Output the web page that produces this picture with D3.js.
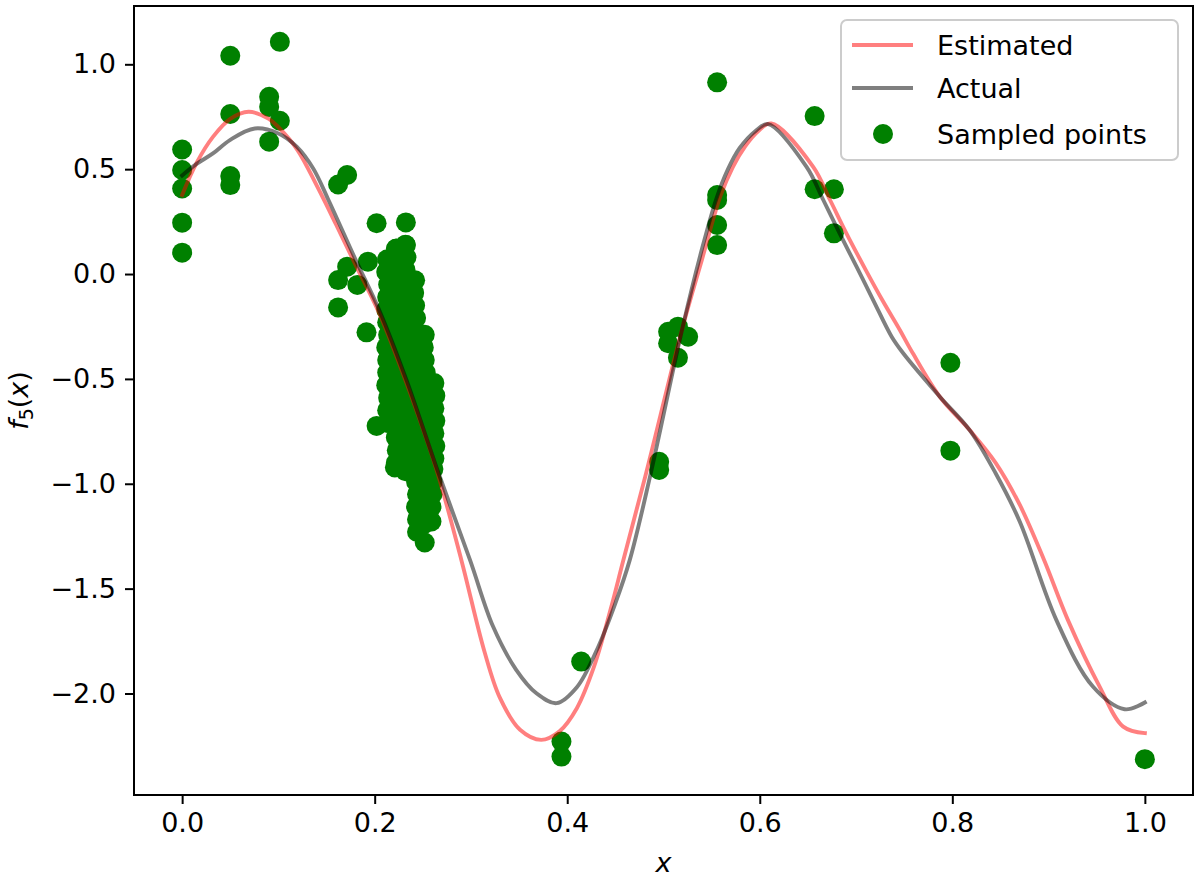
<!DOCTYPE html>
<html>
<head>
<meta charset="utf-8">
<script src="https://cdn.jsdelivr.net/npm/d3@7"></script>
<style>
  html, body { margin: 0; padding: 0; background: #ffffff; }
  svg { display: block; }
  text { font-family: "DejaVu Sans", sans-serif; }
</style>
</head>
<body>
<svg id="chart" width="1196" height="879"></svg>
<script>
// ---------------- data ----------------
const xTicks = [0.0, 0.2, 0.4, 0.6, 0.8, 1.0];
const yTicks = [-2.0, -1.5, -1.0, -0.5, 0.0, 0.5, 1.0];
const legendLabels = ["Estimated", "Actual", "Sampled points"];

// Estimated curve (x, y)
const estX = [0.000, 0.015, 0.032, 0.050, 0.069, 0.090, 0.100, 0.120, 0.140, 0.160, 0.180, 0.205, 0.233, 0.264, 0.290, 0.314, 0.330, 0.351, 0.373, 0.392, 0.410, 0.428, 0.445, 0.458, 0.481, 0.520, 0.540, 0.559, 0.572, 0.585, 0.598, 0.612, 0.6555, 0.673, 0.690, 0.710, 0.728, 0.7455, 0.759, 0.787, 0.818, 0.845, 0.870, 0.895, 0.920, 0.953, 0.9775, 1.000];
const estY = [0.377, 0.530, 0.654, 0.740, 0.774, 0.740, 0.700, 0.590, 0.420, 0.235, 0.045, -0.190, -0.520, -0.930, -1.363, -1.800, -2.020, -2.173, -2.221, -2.180, -2.070, -1.870, -1.600, -1.370, -0.966, -0.251, 0.070, 0.370, 0.510, 0.610, 0.680, 0.718, 0.511, 0.353, 0.194, 0.020, -0.130, -0.267, -0.378, -0.585, -0.744, -0.900, -1.100, -1.360, -1.649, -1.967, -2.158, -2.189];

// Actual curve (x, y)
const actX = [0.000, 0.015, 0.032, 0.050, 0.0755, 0.100, 0.119, 0.136, 0.152, 0.180, 0.205, 0.233, 0.264, 0.299, 0.323, 0.347, 0.368, 0.389, 0.410, 0.430, 0.450, 0.465, 0.486, 0.520, 0.540, 0.555, 0.567, 0.579, 0.595, 0.6087, 0.6486, 0.666, 0.683, 0.7005, 0.7178, 0.737, 0.749, 0.787, 0.818, 0.845, 0.870, 0.908, 0.946, 0.979, 1.000];
const actY = [0.470, 0.525, 0.575, 0.640, 0.694, 0.670, 0.607, 0.504, 0.353, 0.070, -0.175, -0.505, -0.919, -1.363, -1.681, -1.887, -1.999, -2.046, -1.970, -1.800, -1.570, -1.363, -0.966, -0.251, 0.120, 0.360, 0.500, 0.600, 0.680, 0.715, 0.511, 0.353, 0.194, 0.035, -0.124, -0.299, -0.378, -0.585, -0.744, -0.950, -1.180, -1.649, -1.967, -2.075, -2.043];

// Sampled points (x, y)
const sampleX = [
  0.000, 0.000, 0.000, 0.000, 0.000,
  0.050, 0.050, 0.050, 0.050,
  0.1015, 0.0904, 0.0904, 0.1015, 0.0904,
  0.1714, 0.162, 0.202, 0.2324, 0.162, 0.1714, 0.182, 0.193, 0.162, 0.1915, 0.202,
  0.2324, 0.2227, 0.221,
  // dense cluster
  0.213, 0.212, 0.214, 0.213, 0.212, 0.213, 0.214, 0.212, 0.213, 0.213, 0.212, 0.214, 0.213, 0.213,
  0.222, 0.223, 0.222, 0.221, 0.223, 0.222, 0.222, 0.223, 0.221, 0.222, 0.223, 0.222, 0.221, 0.223, 0.222, 0.222, 0.223, 0.222,
  0.232, 0.233, 0.232, 0.231, 0.233, 0.232, 0.232, 0.233, 0.231, 0.232, 0.233, 0.232, 0.231, 0.233, 0.232, 0.232, 0.233, 0.232, 0.232,
  0.242, 0.241, 0.242, 0.243, 0.242, 0.241, 0.242, 0.243, 0.242, 0.241, 0.242, 0.243, 0.242, 0.241, 0.242, 0.243, 0.243, 0.244, 0.243, 0.244, 0.244,
  0.252, 0.251, 0.252, 0.253, 0.252, 0.251, 0.252, 0.253, 0.252, 0.251, 0.252, 0.253, 0.252, 0.251, 0.252, 0.252, 0.252,
  0.262, 0.263, 0.262, 0.263, 0.262, 0.263, 0.262, 0.261, 0.260, 0.260, 0.259, 0.259,
  // right part
  0.4955, 0.4955, 0.5048, 0.515, 0.5256, 0.5048, 0.515,
  0.5557, 0.5557, 0.5557, 0.5557, 0.5557,
  0.657, 0.657, 0.677, 0.677,
  0.4145, 0.394, 0.394,
  0.798, 0.798, 1.000
];
const sampleY = [
  0.594, 0.496, 0.408, 0.245, 0.102,
  1.041, 0.763, 0.467, 0.424,
  1.107, 0.845, 0.797, 0.731, 0.631,
  0.472, 0.427, 0.242, 0.246, -0.029, 0.035, -0.052, 0.059, -0.159, -0.278, -0.724,
  0.138, 0.122, -0.922,
  // dense cluster
  0.07, 0.01, -0.05, -0.11, -0.17, -0.23, -0.29, -0.35, -0.41, -0.47, -0.53, -0.59, -0.65, -0.71,
  0.12, 0.06, 0.00, -0.06, -0.12, -0.18, -0.24, -0.30, -0.36, -0.42, -0.48, -0.54, -0.60, -0.66, -0.72, -0.78, -0.84, -0.90,
  0.14, 0.08, 0.02, -0.04, -0.10, -0.16, -0.22, -0.28, -0.34, -0.40, -0.46, -0.52, -0.58, -0.64, -0.70, -0.76, -0.82, -0.88, -0.94,
  -0.03, -0.09, -0.15, -0.21, -0.27, -0.33, -0.39, -0.45, -0.51, -0.57, -0.63, -0.69, -0.75, -0.81, -0.87, -0.93, -0.99, -1.05, -1.11, -1.17, -1.23,
  -0.29, -0.35, -0.41, -0.47, -0.53, -0.59, -0.65, -0.71, -0.77, -0.83, -0.89, -0.95, -1.01, -1.07, -1.13, -1.19, -1.28,
  -0.52, -0.58, -0.64, -0.70, -0.76, -0.82, -0.88, -0.93, -0.99, -1.05, -1.11, -1.18,
  // right part
  -0.895, -0.934, -0.275, -0.251, -0.299, -0.330, -0.399,
  0.914, 0.377, 0.353, 0.234, 0.138,
  0.753, 0.404, 0.404, 0.194,
  -1.848, -2.229, -2.301,
  -0.423, -0.842, -2.313
];

// ---------------- layout ----------------
const svg = d3.select("#chart");
const plot = { left: 134, right: 1193, top: 6, bottom: 795 };
const fontSize = 27;

const x = d3.scaleLinear().domain([-0.05, 1.05]).range([plot.left, plot.right]);
const y = d3.scaleLinear().domain([-2.484, 1.278]).range([plot.bottom, plot.top]);

svg.append("rect").attr("width", 1196).attr("height", 879).attr("fill", "#ffffff");

svg.append("defs").append("clipPath").attr("id", "clip")
  .append("rect").attr("x", plot.left).attr("y", plot.top)
  .attr("width", plot.right - plot.left).attr("height", plot.bottom - plot.top);

const g = svg.append("g").attr("clip-path", "url(#clip)");

// points
const pts = sampleX.map((v, i) => [v, sampleY[i]]);
g.append("g").selectAll("circle").data(pts).join("circle")
  .attr("cx", d => x(d[0])).attr("cy", d => y(d[1]))
  .attr("r", 10).attr("fill", "#008000");

// lines
const line = d3.line().x(d => x(d[0])).y(d => y(d[1])).curve(d3.curveCatmullRom.alpha(0.5));
const est = estX.map((v, i) => [v, estY[i]]);
const act = actX.map((v, i) => [v, actY[i]]);
g.append("path").datum(est).attr("d", line)
  .attr("fill", "none").attr("stroke", "#ff0000").attr("stroke-opacity", 0.5)
  .attr("stroke-width", 3.9).attr("stroke-linecap", "square");
g.append("path").datum(act).attr("d", line)
  .attr("fill", "none").attr("stroke", "#000000").attr("stroke-opacity", 0.5)
  .attr("stroke-width", 3.9).attr("stroke-linecap", "square");

// axes
const fmt = d3.format(".1f");
const xAxis = svg.append("g").attr("transform", `translate(0,${plot.bottom})`)
  .call(d3.axisBottom(x).tickValues(xTicks).tickFormat(fmt).tickSize(9).tickPadding(9));
const yAxis = svg.append("g").attr("transform", `translate(${plot.left},0)`)
  .call(d3.axisLeft(y).tickValues(yTicks).tickFormat(fmt).tickSize(9).tickPadding(9));
[xAxis, yAxis].forEach(a => {
  a.select(".domain").remove();
  a.selectAll(".tick line").attr("stroke", "#000").attr("stroke-width", 2);
  a.selectAll(".tick text").attr("font-size", fontSize).attr("fill", "#000")
    .attr("font-family", "DejaVu Sans");
});

// frame
svg.append("rect").attr("x", plot.left).attr("y", plot.top)
  .attr("width", plot.right - plot.left).attr("height", plot.bottom - plot.top)
  .attr("fill", "none").attr("stroke", "#000").attr("stroke-width", 2);

// axis labels
svg.append("text").attr("x", (plot.left + plot.right) / 2).attr("y", 872)
  .attr("text-anchor", "middle").attr("font-size", fontSize).attr("font-style", "italic")
  .text("x");

const yl = svg.append("text")
  .attr("transform", `translate(28,${(plot.top + plot.bottom) / 2}) rotate(-90)`)
  .attr("text-anchor", "middle").attr("font-size", fontSize);
yl.append("tspan").attr("font-style", "italic").text("f");
yl.append("tspan").attr("font-size", 19).attr("dy", 5).text("5");
yl.append("tspan").attr("dy", -5).text("(");
yl.append("tspan").attr("font-style", "italic").text("x");
yl.append("tspan").text(")");

// legend
const leg = svg.append("g");
leg.append("rect").attr("x", 841).attr("y", 20).attr("width", 337).attr("height", 140)
  .attr("rx", 6).attr("fill", "#ffffff").attr("fill-opacity", 0.8)
  .attr("stroke", "#cccccc").attr("stroke-width", 2);
const legRows = [
  { label: legendLabels[0], type: "line", color: "#ff0000", op: 0.5, cy: 45 },
  { label: legendLabels[1], type: "line", color: "#000000", op: 0.5, cy: 88 },
  { label: legendLabels[2], type: "dot", color: "#008000", op: 1, cy: 134 }
];
legRows.forEach(r => {
  if (r.type === "line") {
    leg.append("line").attr("x1", 852).attr("x2", 913).attr("y1", r.cy).attr("y2", r.cy)
      .attr("stroke", r.color).attr("stroke-opacity", r.op).attr("stroke-width", 3.9);
  } else {
    leg.append("circle").attr("cx", 883).attr("cy", r.cy).attr("r", 10).attr("fill", r.color);
  }
  leg.append("text").attr("x", 937).attr("y", r.cy).attr("dy", "0.36em")
    .attr("font-size", fontSize).attr("fill", "#000").text(r.label);
});
</script>
</body>
</html>
